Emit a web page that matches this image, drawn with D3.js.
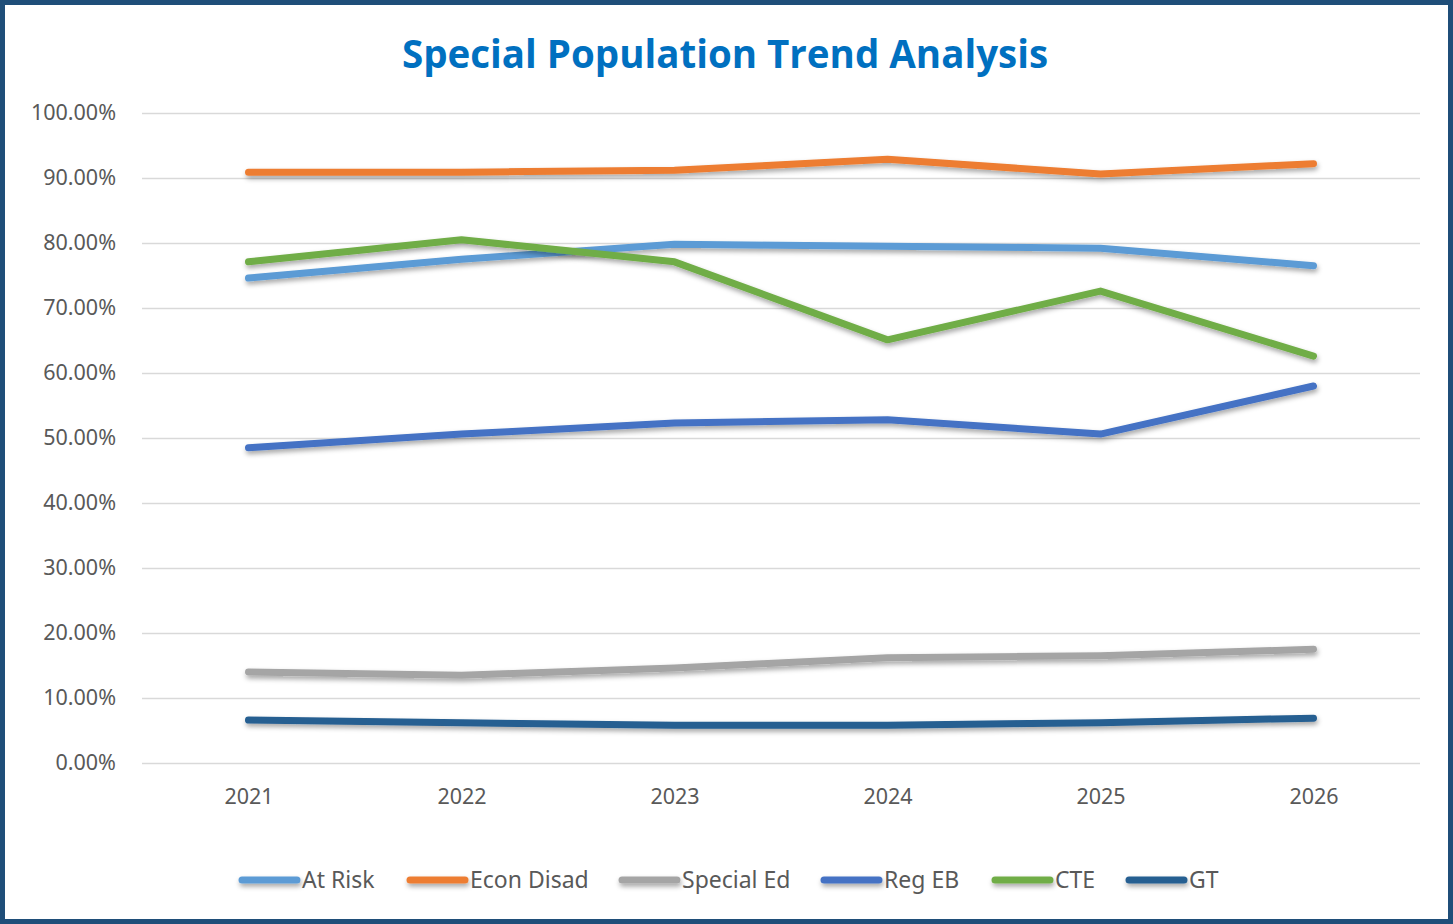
<!DOCTYPE html>
<html><head><meta charset="utf-8">
<script src="https://cdn.jsdelivr.net/npm/d3@7"></script>
<style>
html,body{margin:0;padding:0;background:#fff;}
svg{display:block;}
</style></head>
<body>
<svg id="chart" width="1453" height="924"></svg>
<script>
const years = ["2021","2022","2023","2024","2025","2026"];
const seriesNames = ["At Risk","Econ Disad","Special Ed","Reg EB","CTE","GT"];
const seriesColors = ["#5B9BD5","#ED7D31","#A5A5A5","#4472C4","#70AD47","#255E91"];
const atRisk = [74.6, 77.5, 79.8, 79.5, 79.2, 76.5];
const econDisad = [90.9, 90.9, 91.2, 92.9, 90.6, 92.2];
const specialEd = [14.0, 13.5, 14.6, 16.2, 16.5, 17.5];
const regEB = [48.5, 50.6, 52.3, 52.8, 50.6, 58.0];
const cte = [77.1, 80.5, 77.1, 65.1, 72.6, 62.6];
const gt = [6.6, 6.2, 5.8, 5.8, 6.2, 6.9];
const yTicks = [0,10,20,30,40,50,60,70,80,90,100];
const title = "Special Population Trend Analysis";

(function(){
const seriesValues = [atRisk, econDisad, specialEd, regEB, cte, gt];
const W = 1453, H = 924;
const svg = d3.select("#chart");

svg.append("rect").attr("x",2.5).attr("y",2.5).attr("width",W-5).attr("height",H-5)
  .attr("fill","#fff").attr("stroke","#1F4E79").attr("stroke-width",5);

const defs = svg.append("defs");
const f = defs.append("filter").attr("id","shadow").attr("filterUnits","userSpaceOnUse")
  .attr("x",-W).attr("y",-H).attr("width",3*W).attr("height",3*H);
f.append("feDropShadow").attr("dx",1).attr("dy",3).attr("stdDeviation",2.5)
  .attr("flood-color","#000").attr("flood-opacity",0.35);

const pLeft = 142, pRight = 1420, pTop = 113, pBottom = 763;
const x = d3.scalePoint().domain(years).range([pLeft,pRight]).padding(0.5);
const y = d3.scaleLinear().domain([0,100]).range([pBottom,pTop]);

svg.append("text").attr("x",725).attr("y",68).attr("text-anchor","middle")
  .attr("font-family","'Open Sans', sans-serif").attr("font-weight",700).attr("font-size",38.5)
  .attr("fill","#0070C0").text(title);

const yAxis = d3.axisLeft(y).tickValues(yTicks).tickSize(-(pRight-pLeft)).tickFormat(d => d.toFixed(2)+"%");
const gy = svg.append("g").attr("transform",`translate(${pLeft},0)`).call(yAxis);
gy.select(".domain").remove();
gy.selectAll(".tick line").attr("stroke","#D9D9D9").attr("stroke-width",1.5);
gy.selectAll(".tick text").attr("x",-26).attr("fill","#595959")
  .attr("font-family","'Noto Sans', sans-serif").attr("font-size",21.5);

const xAxis = d3.axisBottom(x).tickSize(0).tickPadding(26);
const gx = svg.append("g").attr("transform",`translate(0,${pBottom})`).call(xAxis);
gx.select(".domain").remove();
gx.selectAll(".tick text").attr("fill","#595959")
  .attr("font-family","'Noto Sans', sans-serif").attr("font-size",21.5);

const line = d3.line().x((d,i)=>x(years[i])).y(d=>y(d));
seriesValues.forEach((vals,i) => {
  svg.append("path").datum(vals).attr("d",line)
    .attr("fill","none").attr("stroke",seriesColors[i]).attr("stroke-width",7)
    .attr("stroke-linecap","round").attr("stroke-linejoin","round")
    .attr("filter","url(#shadow)");
});

const legendX = [240, 408, 620, 822, 993, 1127];
const lg = svg.append("g");
seriesNames.forEach((n,i) => {
  const g = lg.append("g").attr("transform",`translate(${legendX[i]},880)`);
  g.append("line").attr("x1",2).attr("x2",57).attr("y1",0).attr("y2",0)
    .attr("stroke",seriesColors[i]).attr("stroke-width",7).attr("stroke-linecap","round")
    .attr("filter","url(#shadow)");
  g.append("text").attr("x",62).attr("y",8).attr("fill","#595959")
    .attr("font-family","'Liberation Sans Narrow', 'Noto Sans', sans-serif").attr("font-size",23)
    .text(n);
});
})();
</script>
</body></html>
